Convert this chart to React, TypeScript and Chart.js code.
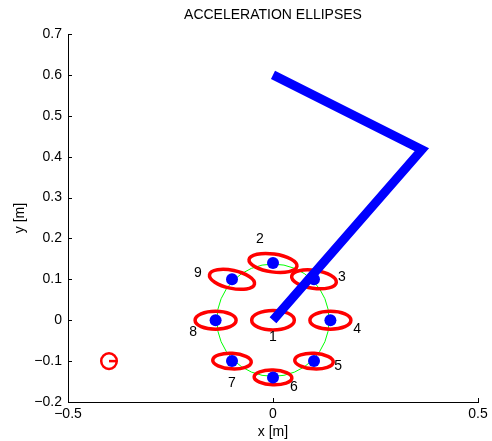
import React, { useEffect, useRef } from "react";
import { Chart, registerables } from "chart.js";

Chart.register(...registerables);

// Arm (thick blue polyline)
const armX = [0, 0.363, 0];
const armY = [0.6, 0.417, 0];

// Blue dots (points 2..9)
const dotX = [0, 0.1, 0.14, 0.1, 0, -0.1, -0.14, -0.1];
const dotY = [0.14, 0.1, 0, -0.1, -0.14, -0.1, 0, 0.1];

// Acceleration ellipses 1..9
const ellipseNames = ["1", "2", "3", "4", "5", "6", "7", "8", "9"];
const ellipseX = [0, 0, 0.1, 0.14, 0.1, 0, -0.1, -0.14, -0.1];
const ellipseY = [0, 0.14, 0.1, 0, -0.1, -0.14, -0.1, 0, 0.1];
const ellipseA = [0.052, 0.059, 0.055, 0.05, 0.047, 0.046, 0.047, 0.05, 0.056];
const ellipseB = [0.024, 0.022, 0.022, 0.022, 0.019, 0.018, 0.019, 0.022, 0.022];
const ellipseAngleDeg = [0, -8, -8, 0, -3, -2, -3, 0, -12];

// Label positions for ellipse numbers
const labelX = [0, -0.032, 0.168, 0.205, 0.159, 0.051, -0.1, -0.195, -0.183];
const labelY = [-0.042, 0.198, 0.105, -0.022, -0.112, -0.164, -0.154, -0.029, 0.115];

// Green workspace circle
const circleX = 0;
const circleY = 0;
const circleR = 0.137;

// Small red marker circle
const markerX = -0.4;
const markerY = -0.1;
const markerR = 0.019;

// Axis ticks
const xTicks = [-0.5, 0, 0.5];
const yTicks = [-0.2, -0.1, 0, 0.1, 0.2, 0.3, 0.4, 0.5, 0.6, 0.7];

const FONT = "'Liberation Sans', Arial, Helvetica, sans-serif";

function fmt(v: number): string {
  const r = Math.round(v * 10) / 10;
  if (r === 0) return "0";
  return r < 0 ? "\u2212" + String(Math.abs(r)) : String(r);
}

const overlayPlugin = {
  id: "overlay",
  beforeDatasetsDraw(chart: any) {
    const ctx = chart.ctx;
    const xs = chart.scales.x;
    const ys = chart.scales.y;
    ctx.save();
    // green circle
    const cx = xs.getPixelForValue(circleX);
    const cy = ys.getPixelForValue(circleY);
    const cr = Math.abs(xs.getPixelForValue(circleX + circleR) - cx);
    ctx.strokeStyle = "#00ff00";
    ctx.lineWidth = 1;
    ctx.beginPath();
    ctx.arc(cx, cy, cr, 0, Math.PI * 2);
    ctx.stroke();
    // ellipses
    ctx.strokeStyle = "#ff0000";
    ctx.lineWidth = 3.5;
    for (let i = 0; i < ellipseX.length; i++) {
      const ex = xs.getPixelForValue(ellipseX[i]);
      const ey = ys.getPixelForValue(ellipseY[i]);
      const rx = Math.abs(xs.getPixelForValue(ellipseX[i] + ellipseA[i]) - ex);
      const ry = Math.abs(ys.getPixelForValue(ellipseY[i] + ellipseB[i]) - ey);
      ctx.beginPath();
      ctx.ellipse(ex, ey, rx, ry, (-ellipseAngleDeg[i] * Math.PI) / 180, 0, Math.PI * 2);
      ctx.stroke();
    }
    // marker
    const mx = xs.getPixelForValue(markerX);
    const my = ys.getPixelForValue(markerY);
    const mr = Math.abs(xs.getPixelForValue(markerX + markerR) - mx);
    ctx.lineWidth = 2.5;
    ctx.beginPath();
    ctx.arc(mx, my, mr, 0, Math.PI * 2);
    ctx.stroke();
    ctx.beginPath();
    ctx.moveTo(mx, my);
    ctx.lineTo(mx + mr, my);
    ctx.stroke();
    ctx.restore();
  },
  afterDraw(chart: any) {
    const ctx = chart.ctx;
    const xs = chart.scales.x;
    const ys = chart.scales.y;
    const area = chart.chartArea;
    ctx.save();
    ctx.strokeStyle = "#000";
    ctx.lineWidth = 1;
    ctx.beginPath();
    for (const v of yTicks) {
      const py = Math.round(ys.getPixelForValue(v)) + 0.5;
      ctx.moveTo(area.left, py);
      ctx.lineTo(area.left + 4, py);
    }
    for (const v of xTicks) {
      const px = Math.round(xs.getPixelForValue(v)) + 0.5;
      ctx.moveTo(px, area.bottom);
      ctx.lineTo(px, area.bottom - 4);
    }
    ctx.stroke();
    // labels
    ctx.fillStyle = "#000";
    ctx.font = `14px ${FONT}`;
    ctx.textAlign = "center";
    ctx.textBaseline = "middle";
    for (let i = 0; i < ellipseNames.length; i++) {
      ctx.fillText(ellipseNames[i], xs.getPixelForValue(labelX[i]), ys.getPixelForValue(labelY[i]));
    }
    ctx.restore();
  },
};

export default function App() {
  const ref = useRef<HTMLCanvasElement | null>(null);
  useEffect(() => {
    document.body.style.margin = "0";
    if (!ref.current) return;
    Chart.defaults.font.family = FONT;
    Chart.defaults.color = "#000";
    const chart = new Chart(ref.current, {
      type: "scatter",
      data: {
        datasets: [
          {
            label: "arm",
            data: armX.map((x, i) => ({ x, y: armY[i] })),
            showLine: true,
            borderColor: "#0000ff",
            borderWidth: 9,
            borderCapStyle: "butt",
            borderJoinStyle: "miter",
            pointRadius: 0,
            pointHoverRadius: 0,
          },
          {
            label: "points",
            data: dotX.map((x, i) => ({ x, y: dotY[i] })),
            showLine: false,
            backgroundColor: "#0000ff",
            borderColor: "#0000ff",
            borderWidth: 0,
            pointRadius: 6,
          },
        ],
      },
      options: {
        animation: false,
        responsive: false,
        devicePixelRatio: 1,
        layout: { padding: { left: 0, right: 14, top: 0, bottom: 0 } },
        plugins: {
          legend: { display: false },
          tooltip: { enabled: false },
          title: {
            display: true,
            text: "ACCELERATION ELLIPSES",
            fullSize: false,
            color: "#000",
            font: { size: 14, weight: "normal" },
            padding: { top: 6.6, bottom: 10.6 },
          },
        },
        scales: {
          x: {
            type: "linear",
            min: -0.5,
            max: 0.5,
            afterFit: (s: any) => {
              s.height = 39;
            },
            grid: { display: false, drawTicks: false },
            border: { display: true, color: "#000", width: 1 },
            ticks: {
              stepSize: 0.5,
              padding: 4,
              font: { size: 14 },
              color: "#000",
              maxRotation: 0,
              callback: (v: any) => fmt(Number(v)),
            },
            title: {
              display: true,
              text: "x [m]",
              font: { size: 14 },
              color: "#000",
              padding: { top: 0, bottom: 0.6 },
            },
          },
          y: {
            type: "linear",
            min: -0.2,
            max: 0.7,
            afterFit: (s: any) => {
              s.width = 68;
            },
            grid: { display: false, drawTicks: false },
            border: { display: true, color: "#000", width: 1 },
            ticks: {
              stepSize: 0.1,
              padding: 6,
              font: { size: 14 },
              color: "#000",
              callback: (v: any) => fmt(Number(v)),
            },
            title: {
              display: true,
              text: "y [m]",
              font: { size: 14 },
              color: "#000",
              padding: { top: 11.6, bottom: 0 },
            },
          },
        },
      },
      plugins: [overlayPlugin],
    });
    return () => chart.destroy();
  }, []);
  return (
    <div style={{ position: "absolute", left: 0, top: 0, width: 492, height: 441 }}>
      <canvas ref={ref} width={492} height={441} />
    </div>
  );
}
